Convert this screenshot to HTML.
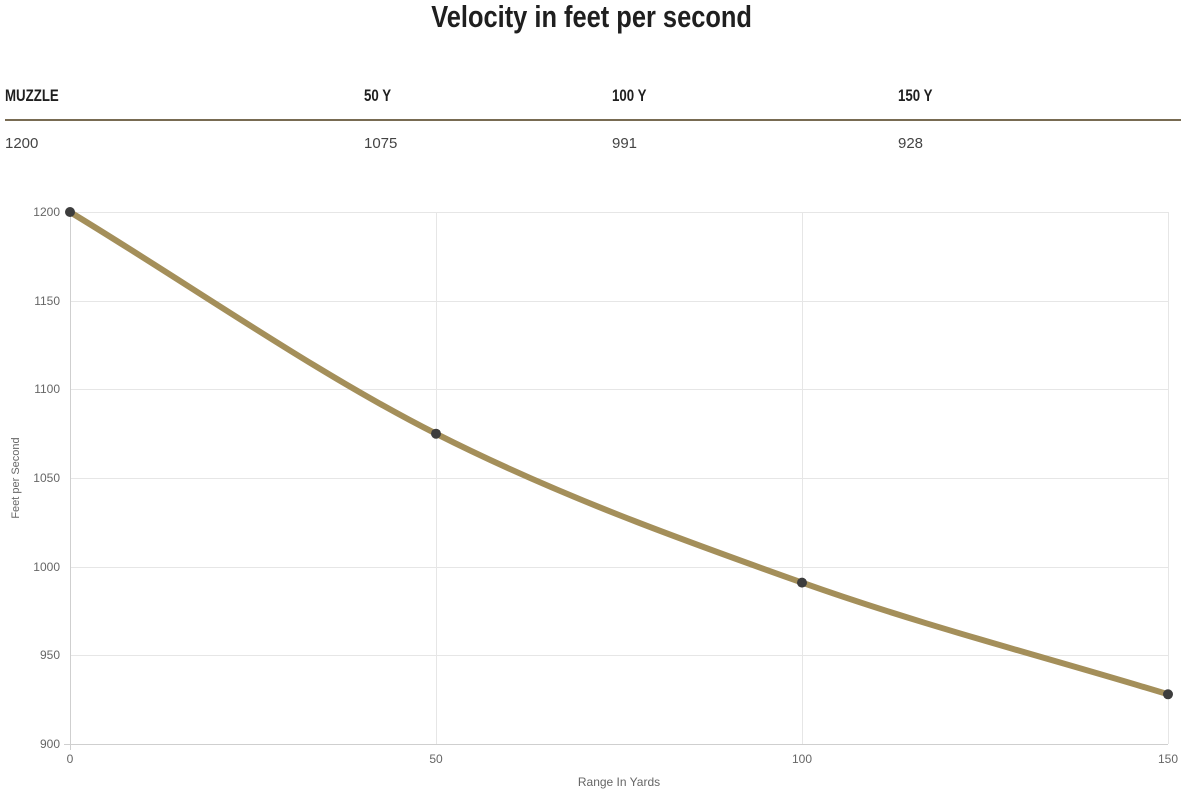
<!DOCTYPE html>
<html><head><meta charset="utf-8"><style>
body{margin:0;width:1183px;height:792px;background:#fff;font-family:"Liberation Sans",sans-serif;overflow:hidden;position:relative}
.t{position:absolute;white-space:nowrap}
.title{left:0;width:1183px;text-align:center;top:-1px;font-size:31px;font-weight:bold;color:#1f1f1f;transform:scaleX(0.82);transform-origin:592px 0}
.h{top:86px;font-size:17px;font-weight:bold;color:#1f1f1f;transform:scaleX(0.78);transform-origin:0 0}
.v{top:135px;font-size:15px;color:#444}
</style></head><body>
<div class="t title">Velocity in feet per second</div>
<div class="t h" style="left:5px">MUZZLE</div>
<div class="t h" style="left:364px">50 Y</div>
<div class="t h" style="left:612px">100 Y</div>
<div class="t h" style="left:898px">150 Y</div>
<div style="position:absolute;left:5px;top:119px;width:1176px;height:2px;background:#786b52"></div>
<div class="t v" style="left:5px">1200</div>
<div class="t v" style="left:364px">1075</div>
<div class="t v" style="left:612px">991</div>
<div class="t v" style="left:898px">928</div>
<svg width="1183" height="792" style="position:absolute;left:0;top:0" font-family="Liberation Sans, sans-serif">
<g stroke="#e6e6e6" stroke-width="1">
<line x1="70" y1="212.5" x2="1168" y2="212.5"/><line x1="70" y1="301.5" x2="1168" y2="301.5"/>
<line x1="70" y1="389.5" x2="1168" y2="389.5"/><line x1="70" y1="478.5" x2="1168" y2="478.5"/>
<line x1="70" y1="567.5" x2="1168" y2="567.5"/><line x1="70" y1="655.5" x2="1168" y2="655.5"/>
<line x1="436.5" y1="212" x2="436.5" y2="744"/><line x1="802.5" y1="212" x2="802.5" y2="744"/>
<line x1="1168.5" y1="212" x2="1168.5" y2="744"/>
</g>
<g stroke="#cfcfcf"><line x1="70.5" y1="212" x2="70.5" y2="750"/><line x1="64" y1="744.5" x2="1168" y2="744.5"/></g>
<g font-size="12" fill="#666" text-anchor="end">
<text x="60" y="216">1200</text><text x="60" y="305">1150</text><text x="60" y="393">1100</text>
<text x="60" y="482">1050</text><text x="60" y="571">1000</text><text x="60" y="659">950</text><text x="60" y="748">900</text>
</g>
<g font-size="12" fill="#666" text-anchor="middle">
<text x="70" y="763">0</text><text x="436" y="763">50</text><text x="802" y="763">100</text><text x="1168" y="763">150</text>
<text x="619" y="786">Range In Yards</text>
<text transform="translate(19,478) rotate(-90)" font-size="11">Feet per Second</text>
</g>
<path d="M70,212 C192,285.9 314,372 436,433.7 C558,495.4 680,539.2 802,582.6 C924,626 1046,657.1 1168,694.3" fill="none" stroke="#a48f5a" stroke-width="6"/>
<g fill="#3d3d3d"><circle cx="70" cy="212" r="5"/><circle cx="436" cy="433.7" r="5"/><circle cx="802" cy="582.6" r="5"/><circle cx="1168" cy="694.3" r="5"/></g>
</svg>
</body></html>
